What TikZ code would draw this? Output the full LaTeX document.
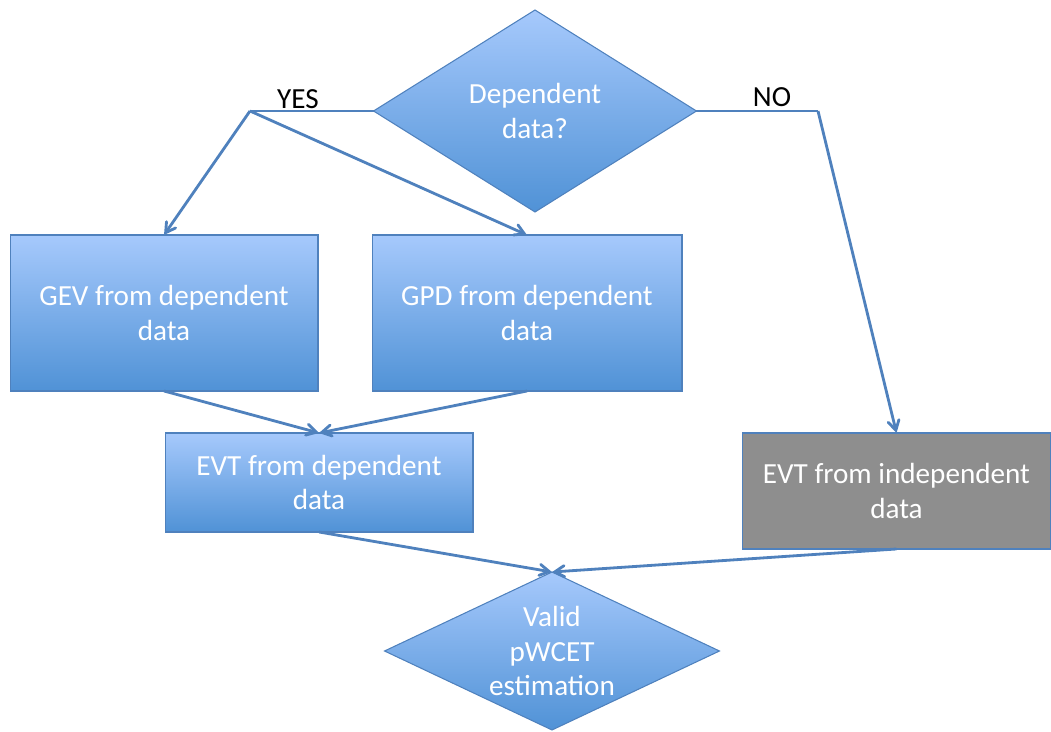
\documentclass[tikz,border=0pt]{standalone}
\usepackage{fontspec}
\setmainfont{Carlito}
\usetikzlibrary{arrows,shapes.geometric}
\definecolor{fc_line}{RGB}{79,129,189}
\definecolor{fc_top}{RGB}{166,201,252}
\definecolor{fc_bot}{RGB}{80,146,214}
\definecolor{fc_grey}{RGB}{142,142,142}
\tikzset{
  flownode/.style = {align=center, inner sep=0pt, outer sep=0pt, text centered,
    font=\fontsize{16.6}{19.5}\selectfont, white, draw=fc_line, line width=0.6pt},
  fc_box/.style = {flownode, rectangle, top color=fc_top,
    bottom color=fc_bot},% boite bleue
  fc_gry/.style = {flownode, rectangle, fill=fc_grey},% boite grise
  fc_dec/.style = {flownode, diamond, top color=fc_top,
    bottom color=fc_bot},% losange de decision
  fc_lbl/.style = {anchor=base, inner sep=0pt, black,
    font=\fontsize{16.6}{19.5}\selectfont},
}

\begin{document}
\begin{tikzpicture}[x=0.02cm,y=-0.02cm,>=angle 60,
  every edge/.style={draw=fc_line, line width=1.6pt, ->}]
\useasboundingbox (0,0) rectangle (1051,732);
\node [fc_dec, aspect=1.6, minimum width=6.46cm, minimum height=4.04cm] (dep) at (535,111)
  {Dependent\\data?};
\node [fc_box, minimum width=6.16cm, minimum height=3.12cm] (gev) at (164,313)
  {GEV from dependent\\data};
\node [fc_box, minimum width=6.2cm, minimum height=3.12cm] (gpd) at (527,313)
  {GPD from dependent\\data};
\node [fc_box, minimum width=6.16cm, minimum height=1.98cm] (evtd) at (319,482.5)
  {EVT from dependent\\data};
\node [fc_gry, minimum width=6.18cm, minimum height=2.32cm] (evti) at (896.5,491)
  {EVT from independent\\data};
\node [fc_dec, aspect=2.12, minimum width=6.7cm, minimum height=3.16cm] (valid) at (552,651)
  {Valid\\pWCET\\estimation};
\coordinate (yes_j) at (250,111);
\coordinate (no_j) at (818,111);
\node [fc_lbl] at (298,109) {YES};
\node [fc_lbl] at (772,107) {NO};
\path (dep.west) edge[-] (yes_j)
      (yes_j) edge (gev.north)
      (yes_j) edge (gpd.north)
      (dep.east) edge[-] (no_j)
      (no_j) edge (evti.north)
      (gev.south) edge (evtd.north)
      (gpd.south) edge (evtd.north)
      (evtd.south) edge (valid.north)
      (evti.south) edge (valid.north);
\end{tikzpicture}
\end{document}
